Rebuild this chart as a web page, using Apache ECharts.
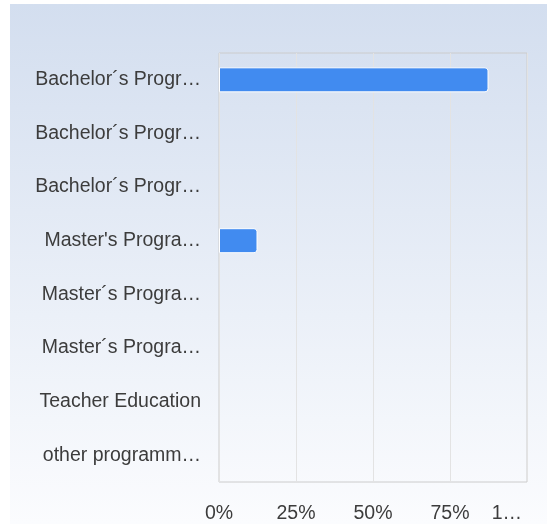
<!DOCTYPE html>
<html>
<head>
<meta charset="utf-8">
<script src="https://cdn.jsdelivr.net/npm/echarts@6/dist/echarts.min.js"></script>
<style>
  html, body { margin: 0; padding: 0; background: #fff; overflow: hidden; }
  #chart { position: absolute; left: 10px; top: 4px; width: 537px; height: 520px; }
</style>
</head>
<body>
<div id="chart"></div>
<script>
// study programmes (top to bottom)
const programmes = [
  'Bachelor´s Programme in Business',
  'Bachelor´s Programme in Engineering',
  'Bachelor´s Programme in Social Sciences',
  "Master's Programme in Business",
  'Master´s Programme in Engineering',
  'Master´s Programme in Social Sciences',
  'Teacher Education',
  'other programmes, please specify'
]
// share of respondents, %
const shares = [87.5, 0, 0, 12.5, 0, 0, 0, 0]
const xTicks = [0, 25, 50, 75, 100]

const FONT = 'Liberation Sans, Arial, sans-serif'
const FONT_SIZE = 19.5

// cut a label to fit a pixel width, measured with the real font
const measureCtx = document.createElement('canvas').getContext('2d')
measureCtx.font = FONT_SIZE + 'px ' + FONT
function fitLabel(text, maxWidth) {
  if (measureCtx.measureText(text).width <= maxWidth) return text
  let t = text
  while (t.length && measureCtx.measureText(t + '…').width > maxWidth) t = t.slice(0, -1)
  return t + '…'
}

const chart = echarts.init(document.getElementById('chart'))
chart.setOption({
  backgroundColor: {
    type: 'linear', x: 0, y: 0, x2: 0, y2: 1,
    colorStops: [
      { offset: 0, color: '#d3deef' },
      { offset: 1, color: '#fbfcfe' }
    ]
  },
  textStyle: { fontFamily: FONT },
  grid: {
    left: 209, right: 20, top: 49, bottom: 42,
    show: true, borderColor: '#cccccc', borderWidth: 1,
    outerBoundsMode: 'none'
  },
  xAxis: {
    type: 'value',
    min: xTicks[0],
    max: xTicks[xTicks.length - 1],
    interval: 25,
    axisLine: { show: false },
    axisTick: { show: false },
    splitLine: { lineStyle: { color: '#e3e3e3' } },
    axisLabel: {
      fontSize: FONT_SIZE,
      color: '#3c3c3c',
      margin: 22,
      width: 40,
      overflow: 'truncate',
      ellipsis: '…',
      alignMaxLabel: 'right',
      formatter: function (v) {
        return v === xTicks[xTicks.length - 1] ? '{last|' + v + '%}' : v + '%'
      },
      rich: {
        last: { fontSize: FONT_SIZE, padding: [0, 5, 0, 0] }
      }
    }
  },
  yAxis: {
    type: 'category',
    inverse: true,
    data: programmes,
    axisLine: { show: false },
    axisTick: { show: false },
    axisLabel: {
      fontSize: FONT_SIZE,
      color: '#3c3c3c',
      margin: 18,
      padding: [6, 0, 0, 0],
      formatter: function (v) { return fitLabel(v, 167) }
    }
  },
  series: [{
    type: 'bar',
    // zero rows get no border so no white sliver shows on the axis
    data: shares.map(function (v) {
      return v === 0 ? { value: v, itemStyle: { borderWidth: 0 } } : v
    }),
    barWidth: 25,
    itemStyle: {
      color: '#418bf0',
      borderColor: '#ffffff',
      borderWidth: 1,
      borderRadius: [0, 3, 3, 0]
    }
  }]
})
</script>
</body>
</html>
